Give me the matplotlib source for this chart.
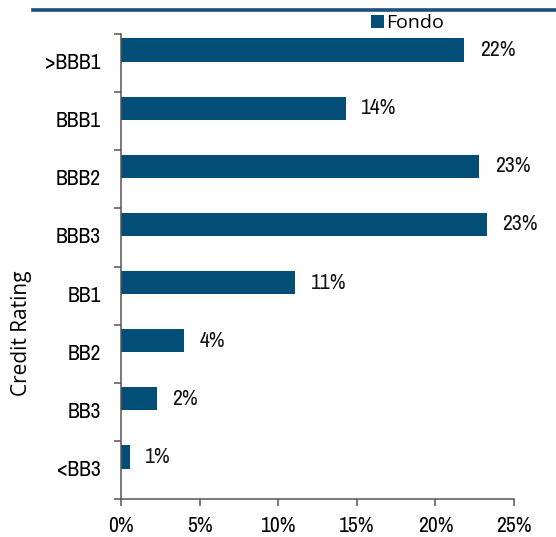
import numpy as np
import matplotlib.pyplot as plt
from matplotlib.lines import Line2D

ratings = ['>BBB1', 'BBB1', 'BBB2', 'BBB3', 'BB1', 'BB2', 'BB3', '<BB3']
fondo = [21.85, 14.3, 22.8, 23.3, 11.1, 4.0, 2.3, 0.57]
xticks = [0, 5, 10, 15, 20, 25]

bar_color = '#024e77'
axis_color = '#5b5252'
narrow = ['Archivo Narrow', 'DejaVu Sans']
normal = ['Open Sans', 'DejaVu Sans']

fig = plt.figure(figsize=(5.56, 5.37), dpi=100)
ax = fig.add_axes([121 / 556, 38 / 537, 393 / 556, 465 / 537])

pos = np.arange(len(ratings))
# bars sit in the upper part of each band (empty second series in the original)
bars = ax.barh(pos - 0.224, fondo, height=0.40, color=bar_color, label='Fondo')

for y, v in zip(pos - 0.224, fondo):
    ax.annotate(f'{v:.0f}%', xy=(v, y), xytext=(11, 0), textcoords='offset points',
                ha='left', va='center', fontsize=15.5, family=narrow, color='#111111')

ax.set_ylim(len(ratings) - 0.5, -0.5)
ax.set_xlim(0, 25)
ax.set_yticks(pos)
ax.set_yticklabels(ratings, family=narrow, fontsize=15.5, va='center')
ax.set_yticks(np.arange(len(ratings) + 1) - 0.5, minor=True)
ax.tick_params(axis='y', which='major', length=0, pad=14.5)
ax.tick_params(axis='y', which='minor', length=5, width=1.1, color=axis_color, direction='out')

ax.set_xticks(xticks)
ax.set_xticklabels([f'{t}%' for t in xticks], family=narrow, fontsize=15.5)
ax.tick_params(axis='x', length=5, width=1.1, color=axis_color, pad=7)

for s in ['top', 'right']:
    ax.spines[s].set_visible(False)
for s in ['left', 'bottom']:
    ax.spines[s].set_color(axis_color)
    ax.spines[s].set_linewidth(1.1)

fig.text(22 / 556, 1 - 333 / 537, 'Credit Rating', rotation=90, ha='center', va='center',
         fontsize=15, family=normal)

ax.legend(handles=[bars], loc='center left', bbox_to_anchor=(371 / 556, 1 - 23 / 537),
          bbox_transform=fig.transFigure, frameon=False, borderpad=0, borderaxespad=0,
          handlelength=0.65, handleheight=0.65, handletextpad=0.15,
          prop={'family': normal, 'size': 14})

fig.add_artist(Line2D([33 / 556, 1], [1 - 9.5 / 537] * 2, transform=fig.transFigure,
                      color='#1b4f7c', lw=2.6))

fig.savefig('out.png', dpi=100)
